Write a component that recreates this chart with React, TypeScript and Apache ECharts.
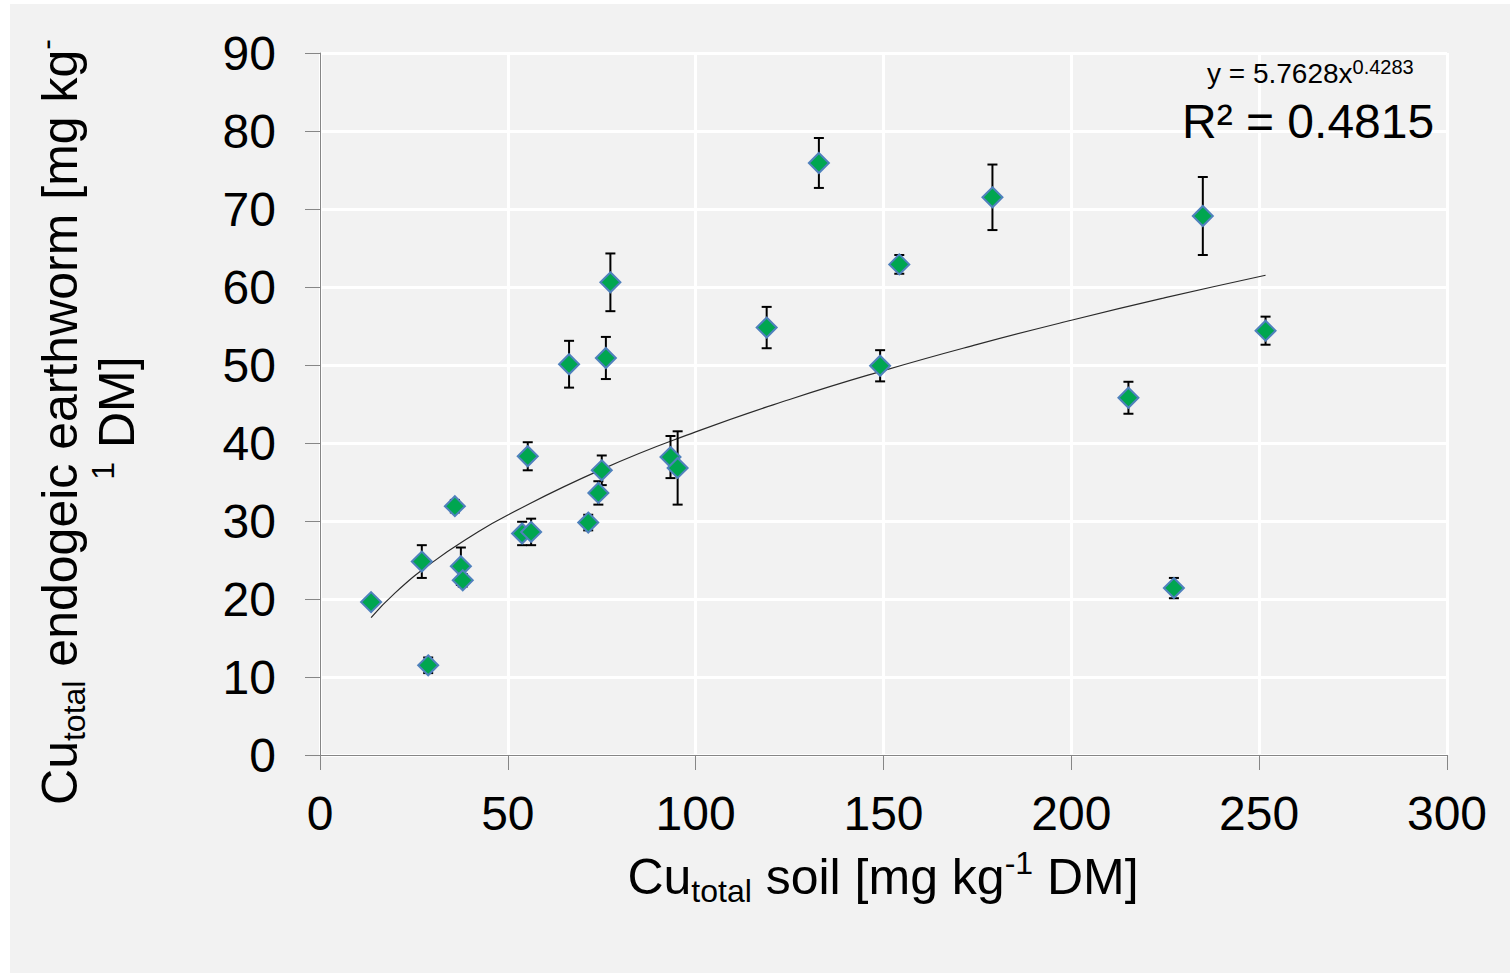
import React, { useEffect, useRef } from "react";
import * as echarts from "echarts";

const soilCu = [13.6, 27.1, 28.8, 35.9, 37.5, 38.0, 53.8, 56.2, 55.3, 66.3, 76.1, 77.3, 71.4, 74.1, 75.0, 93.3, 95.2, 118.9, 132.8, 149.1, 154.2, 179.0, 215.2, 227.3, 235.0, 251.7];
const wormCu = [19.6, 24.8, 11.5, 31.9, 24.2, 22.4, 28.4, 28.6, 38.3, 50.1, 50.9, 60.6, 29.8, 33.6, 36.5, 38.2, 36.8, 54.8, 75.9, 49.9, 62.9, 71.5, 45.8, 21.4, 69.1, 54.4];
const wormErr = [0.3, 2.1, 1.0, 0.8, 2.4, 0.8, 1.5, 1.7, 1.8, 3.0, 2.7, 3.7, 1.0, 1.5, 1.9, 2.7, 4.7, 2.65, 3.2, 2.0, 1.2, 4.2, 2.05, 1.3, 5.0, 1.8];

const trendX = [13.6, 20, 30, 40, 50, 75, 100, 125, 150, 175, 200, 225, 251.7];
const trendY = [17.6, 20.79, 24.73, 27.98, 30.78, 36.62, 41.42, 45.58, 49.28, 52.64, 55.74, 58.63, 61.51];

const xTicks = { min: 0, max: 300, interval: 50 };
const yTicks = { min: 0, max: 90, interval: 10 };

const FONT = "'Liberation Sans', Arial, sans-serif";

export default function App() {
  const ref = useRef<HTMLDivElement>(null);
  useEffect(() => {
    if (!ref.current) return;
    const chart = echarts.init(ref.current, undefined, { renderer: "svg" });
    const pts = soilCu.map((x, i) => [x, wormCu[i]]);
    const errPts = soilCu.map((x, i) => [x, wormCu[i], wormErr[i]]);
    const trend = trendX.map((x, i) => [x, trendY[i]]);
    const axisColor = "#868686";
    chart.setOption({
      animation: false,
      backgroundColor: "#f2f2f2",
      textStyle: { fontFamily: FONT },
      grid: { left: 320, right: 63, top: 53, bottom: 218, containLabel: false },
      xAxis: {
        type: "value",
        min: xTicks.min,
        max: xTicks.max,
        interval: xTicks.interval,
        axisLine: { show: true, lineStyle: { color: axisColor, width: 1 } },
        axisTick: { show: true, length: 15, inside: false, lineStyle: { color: axisColor } },
        splitLine: { show: true, lineStyle: { color: "#ffffff", width: 3 } },
        axisLabel: { fontSize: 48, color: "#000", margin: 34, fontFamily: FONT },
      },
      yAxis: {
        type: "value",
        min: yTicks.min,
        max: yTicks.max,
        interval: yTicks.interval,
        axisLine: { show: true, lineStyle: { color: axisColor, width: 1 } },
        axisTick: { show: true, length: 15, inside: false, lineStyle: { color: axisColor } },
        splitLine: { show: true, lineStyle: { color: "#ffffff", width: 3 } },
        axisLabel: { fontSize: 48, color: "#000", margin: 44, fontFamily: FONT },
      },
      series: [
        {
          type: "line",
          data: trend,
          smooth: true,
          showSymbol: false,
          symbol: "none",
          lineStyle: { color: "#2a2a2a", width: 1.2 },
          z: 2,
        },
        {
          type: "custom",
          data: errPts,
          encode: { x: 0, y: 1 },
          z: 3,
          renderItem: (params: any, api: any) => {
            const x = api.value(0);
            const y = api.value(1);
            const e = api.value(2);
            const top = api.coord([x, y + e]);
            const bot = api.coord([x, y - e]);
            const hw = 5;
            const style = { stroke: "#000", lineWidth: 2 };
            return {
              type: "group",
              children: [
                { type: "line", shape: { x1: top[0], y1: top[1], x2: bot[0], y2: bot[1] }, style },
                { type: "line", shape: { x1: top[0] - hw, y1: top[1], x2: top[0] + hw, y2: top[1] }, style },
                { type: "line", shape: { x1: bot[0] - hw, y1: bot[1], x2: bot[0] + hw, y2: bot[1] }, style },
              ],
            };
          },
        },
        {
          type: "scatter",
          data: pts,
          symbol: "diamond",
          symbolSize: 20,
          itemStyle: { color: "#00a650", borderColor: "#4f81bd", borderWidth: 2, opacity: 1 },
          z: 4,
        },
      ],
      graphic: [
        { type: "rect", z: 100, shape: { x: 0, y: 0, width: 10, height: 973 }, style: { fill: "#ffffff" }, silent: true },
        { type: "rect", z: 100, shape: { x: 0, y: 0, width: 1510, height: 4 }, style: { fill: "#ffffff" }, silent: true },
        {
          type: "text",
          z: 100,
          x: 883,
          y: 877,
          style: {
            text: "{m|Cu}{s|total}{m| soil [mg kg}{p|-1}{m| DM]}",
            align: "center",
            verticalAlign: "middle",
            fill: "#000",
            rich: {
              m: { fontSize: 50, lineHeight: 60, fontFamily: FONT, fill: "#000", verticalAlign: "middle" },
              s: { fontSize: 32, lineHeight: 28, fontFamily: FONT, fill: "#000", verticalAlign: "bottom" },
              p: { fontSize: 32, lineHeight: 28, fontFamily: FONT, fill: "#000", verticalAlign: "top" },
            },
          },
        },
        {
          type: "text",
          z: 100,
          x: 60,
          y: 422,
          rotation: Math.PI / 2,
          style: {
            text: "{m|Cu}{s|total}{m| endogeic earthworm [mg kg}{p|-}",
            align: "center",
            verticalAlign: "middle",
            fill: "#000",
            rich: {
              m: { fontSize: 50, lineHeight: 60, fontFamily: FONT, fill: "#000", verticalAlign: "middle" },
              s: { fontSize: 32, lineHeight: 28, fontFamily: FONT, fill: "#000", verticalAlign: "bottom" },
              p: { fontSize: 32, lineHeight: 28, fontFamily: FONT, fill: "#000", verticalAlign: "top" },
            },
          },
        },
        {
          type: "text",
          z: 100,
          x: 117,
          y: 418,
          rotation: Math.PI / 2,
          style: {
            text: "{p|1}{m| DM]}",
            align: "center",
            verticalAlign: "middle",
            fill: "#000",
            rich: {
              m: { fontSize: 50, lineHeight: 60, fontFamily: FONT, fill: "#000", verticalAlign: "middle" },
              p: { fontSize: 32, lineHeight: 28, fontFamily: FONT, fill: "#000", verticalAlign: "top" },
            },
          },
        },
        {
          type: "text",
          z: 100,
          x: 1207,
          y: 73,
          style: {
            text: "{m|y = 5.7628x}{p|0.4283}",
            align: "left",
            verticalAlign: "middle",
            fill: "#000",
            rich: {
              m: { fontSize: 28, lineHeight: 32, fontFamily: FONT, fill: "#000", verticalAlign: "middle" },
              p: { fontSize: 20, lineHeight: 18, fontFamily: FONT, fill: "#000", verticalAlign: "top" },
            },
          },
        },
        {
          type: "text",
          z: 100,
          x: 1182,
          y: 121,
          style: {
            text: "R² = 0.4815",
            align: "left",
            verticalAlign: "middle",
            fill: "#000",
            fontSize: 48,
            fontFamily: FONT,
          },
        },
      ],
    });
    return () => chart.dispose();
  }, []);
  return (
    <div
      ref={ref}
      style={{ position: "absolute", left: 0, top: 0, width: 1510, height: 973 }}
    />
  );
}
